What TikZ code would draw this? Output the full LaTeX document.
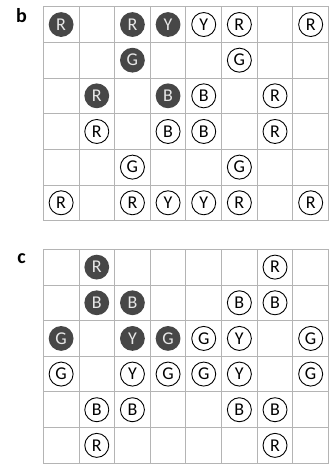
\documentclass[tikz,border=0pt]{standalone}
\usepackage{fontspec}
\setmainfont{Carlito}
\definecolor{gridgray}{HTML}{B4B4B4}
\definecolor{darkfill}{HTML}{474747}
\definecolor{lighttext}{HTML}{E8E8E8}
\begin{document}
\begin{tikzpicture}[x=1pt,y=-1pt,
  gridline/.style={draw=gridgray,line width=0.9pt},
  opencirc/.style={circle,draw=black,line width=0.9pt,fill=white,minimum size=24pt,inner sep=0pt,font=\fontsize{18}{18}\selectfont},
  darkcirc/.style={circle,fill=darkfill,minimum size=24.8pt,inner sep=0pt,text=lighttext,font=\fontsize{18}{18}\selectfont},
  panellabel/.style={font=\bfseries\fontsize{20}{20}\selectfont,inner sep=0pt}]
\useasboundingbox (0,0) rectangle (333,464);
\def\cs{35.65}
% panel labels
\node[panellabel] (lb) at (21.5,16) {b};
\node[panellabel] (lc) at (21.5,259) {c};
% grids
\foreach \oy/\g in {6.7/b,249.3/c}{
  \foreach \i in {0,...,8}{
    \draw[gridline] (43.3+\i*\cs,\oy) -- (43.3+\i*\cs,\oy+6*\cs);
  }
  \foreach \j in {0,...,6}{
    \draw[gridline] (43.3,\oy+\j*\cs) -- (43.3+8*\cs,\oy+\j*\cs);
  }
}
% panel b: col/row/letter/style
\foreach \c/\r/\t/\s in {
  0/0/R/darkcirc, 2/0/R/darkcirc, 3/0/Y/darkcirc, 4/0/Y/opencirc, 5/0/R/opencirc, 7/0/R/opencirc,
  2/1/G/darkcirc, 5/1/G/opencirc,
  1/2/R/darkcirc, 3/2/B/darkcirc, 4/2/B/opencirc, 6/2/R/opencirc,
  1/3/R/opencirc, 3/3/B/opencirc, 4/3/B/opencirc, 6/3/R/opencirc,
  2/4/G/opencirc, 5/4/G/opencirc,
  0/5/R/opencirc, 2/5/R/opencirc, 3/5/Y/opencirc, 4/5/Y/opencirc, 5/5/R/opencirc, 7/5/R/opencirc}{
  \node[\s] (b-\c-\r) at (43.3+\c*\cs+0.5*\cs, 6.7+\r*\cs+0.5*\cs) {\t};
}
% panel c
\foreach \c/\r/\t/\s in {
  1/0/R/darkcirc, 6/0/R/opencirc,
  1/1/B/darkcirc, 2/1/B/darkcirc, 5/1/B/opencirc, 6/1/B/opencirc,
  0/2/G/darkcirc, 2/2/Y/darkcirc, 3/2/G/darkcirc, 4/2/G/opencirc, 5/2/Y/opencirc, 7/2/G/opencirc,
  0/3/G/opencirc, 2/3/Y/opencirc, 3/3/G/opencirc, 4/3/G/opencirc, 5/3/Y/opencirc, 7/3/G/opencirc,
  1/4/B/opencirc, 2/4/B/opencirc, 5/4/B/opencirc, 6/4/B/opencirc,
  1/5/R/opencirc, 6/5/R/opencirc}{
  \node[\s] (c-\c-\r) at (43.3+\c*\cs+0.5*\cs, 249.3+\r*\cs+0.5*\cs) {\t};
}
\end{tikzpicture}
\end{document}
